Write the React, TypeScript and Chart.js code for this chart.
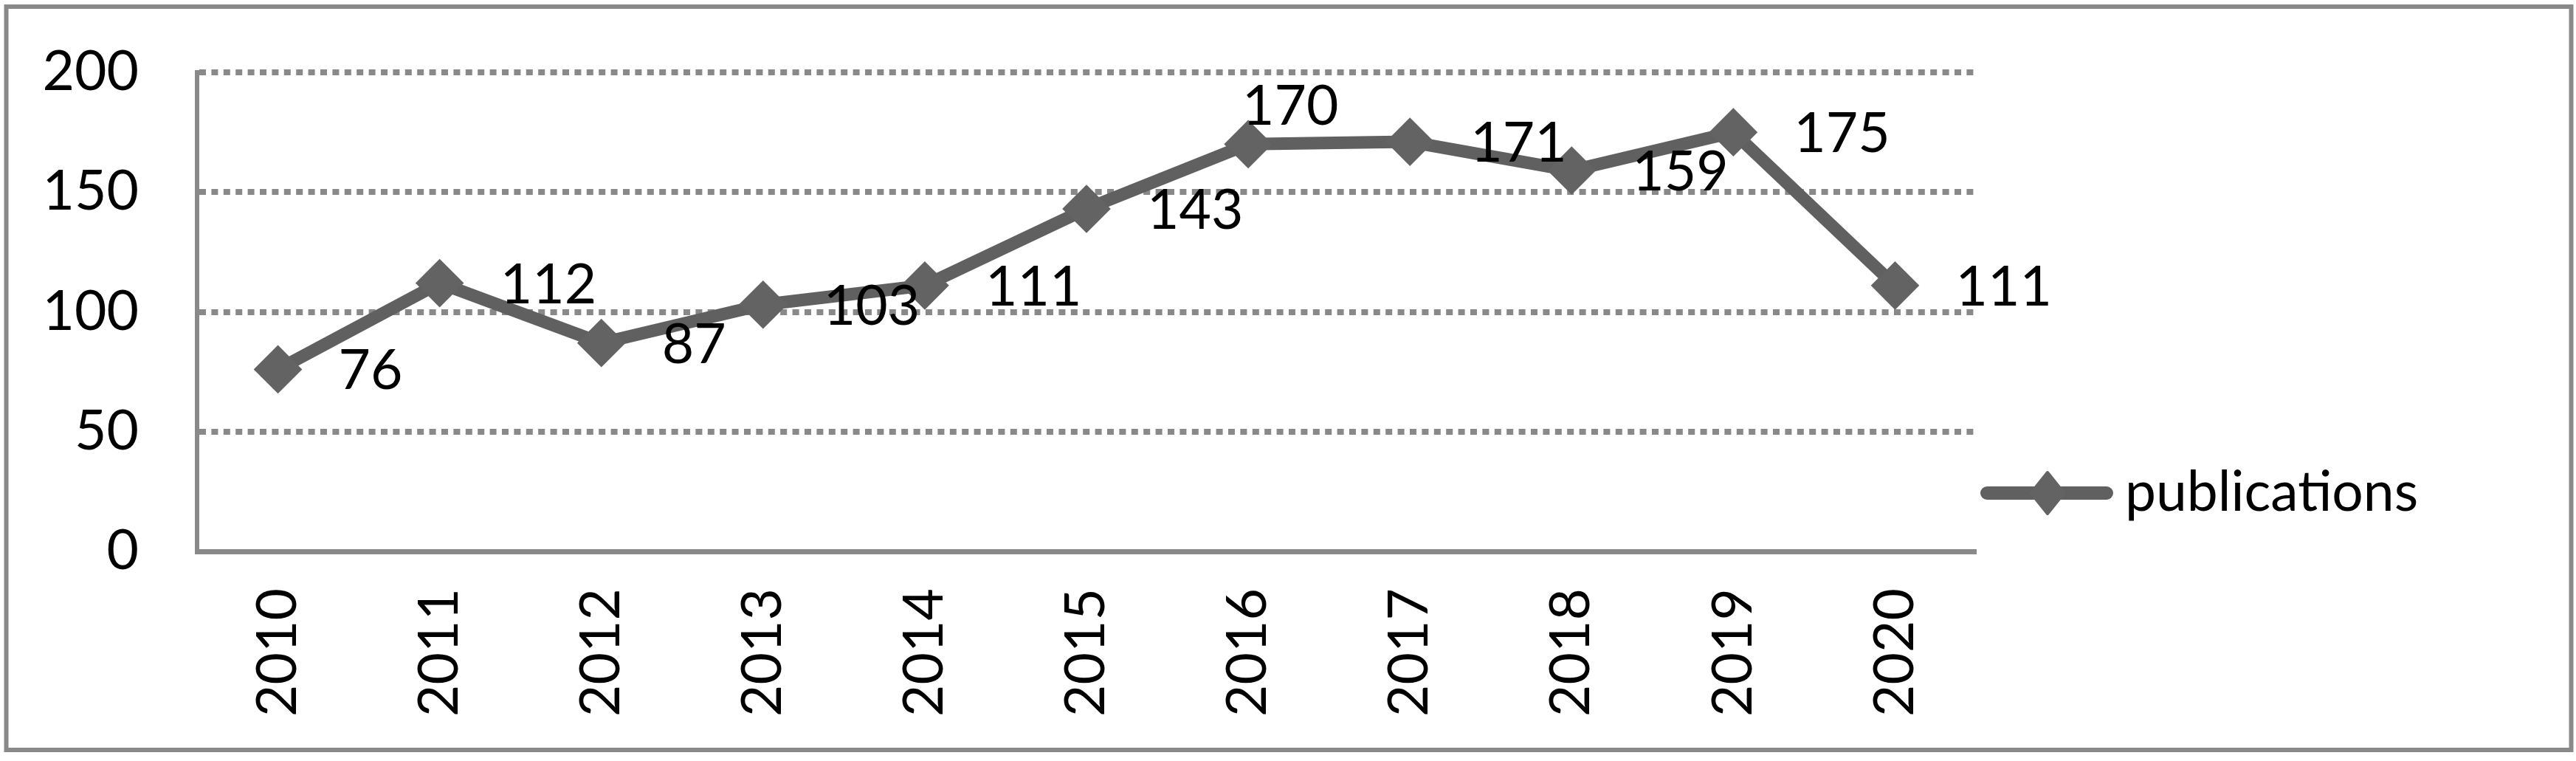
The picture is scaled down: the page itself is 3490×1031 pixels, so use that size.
import React, { useEffect, useRef } from 'react';
import { Chart, registerables } from 'chart.js';

Chart.register(...registerables);

// ---- data ----
const categories = ['2010', '2011', '2012', '2013', '2014', '2015', '2016', '2017', '2018', '2019', '2020'];
const publications = [76, 112, 87, 103, 111, 143, 170, 171, 159, 175, 111];
const yTickValues = [0, 50, 100, 150, 200];
const seriesName = 'publications';

// ---- style ----
const FONT_FAMILY = 'Lato';
const FONT_SIZE = 75;
const GRID_COLOR = '#898989';
const LINE_COLOR = '#606060';
const W = 3490;
const H = 1031;

export default function App() {
  const ref = useRef<HTMLCanvasElement>(null);

  useEffect(() => {
    document.body.style.margin = '0';
    document.body.style.overflow = 'hidden';
    const canvas = ref.current!;

    const framePlugin = {
      id: 'frame',
      beforeDraw(chart: any) {
        const ctx = chart.ctx;
        ctx.save();
        ctx.fillStyle = '#ffffff';
        ctx.fillRect(0, 0, chart.width, chart.height);
        ctx.restore();
      },
      afterDraw(chart: any) {
        const ctx = chart.ctx;
        ctx.save();
        ctx.strokeStyle = GRID_COLOR;
        ctx.lineWidth = 6;
        ctx.strokeRect(8.5, 9, chart.width - 15, chart.height - 24);
        ctx.restore();
      },
    };

    const valueLabelPlugin = {
      id: 'valueLabels',
      afterDatasetsDraw(chart: any) {
        const ctx = chart.ctx;
        const meta = chart.getDatasetMeta(0);
        const values = chart.data.datasets[0].data as number[];
        ctx.save();
        ctx.font = `${FONT_SIZE}px ${FONT_FAMILY}`;
        ctx.fillStyle = '#000000';
        ctx.textBaseline = 'alphabetic';
        ctx.textAlign = 'left';
        meta.data.forEach((pt: any, i: number) => {
          const text = String(values[i]);
          if (i === 6) {
            // this label sits above-right of its point
            ctx.fillText(text, pt.x - 8, pt.y - 26);
          } else {
            ctx.fillText(text, pt.x + 82, pt.y + 27);
          }
        });
        ctx.restore();
      },
    };

    const legendPlugin = {
      id: 'customLegend',
      afterDraw(chart: any) {
        const ctx = chart.ctx;
        const ds = chart.data.datasets[0];
        const x0 = chart.chartArea.right + 6;
        const cy = 668;
        ctx.save();
        ctx.strokeStyle = ds.borderColor;
        ctx.lineWidth = 18;
        ctx.lineCap = 'round';
        ctx.beginPath();
        ctx.moveTo(x0 + 9, cy);
        ctx.lineTo(x0 + 171, cy);
        ctx.stroke();
        const mx = x0 + 91;
        const r = 28;
        ctx.fillStyle = ds.pointBackgroundColor;
        ctx.strokeStyle = ds.pointBorderColor;
        ctx.lineWidth = 4;
        ctx.lineJoin = 'round';
        ctx.beginPath();
        ctx.moveTo(mx - r * 0.8, cy);
        ctx.lineTo(mx, cy - r);
        ctx.lineTo(mx + r * 0.8, cy);
        ctx.lineTo(mx, cy + r);
        ctx.closePath();
        ctx.fill();
        ctx.stroke();
        ctx.font = `${FONT_SIZE}px ${FONT_FAMILY}`;
        ctx.fillStyle = '#000000';
        ctx.textAlign = 'left';
        ctx.textBaseline = 'alphabetic';
        ctx.fillText(ds.label, x0 + 196, 692);
        ctx.restore();
      },
    };

    const chart = new Chart(canvas, {
      type: 'line',
      data: {
        labels: categories,
        datasets: [
          {
            label: seriesName,
            data: publications,
            borderColor: LINE_COLOR,
            backgroundColor: LINE_COLOR,
            borderWidth: 17,
            borderJoinStyle: 'round',
            borderCapStyle: 'round',
            pointStyle: 'rectRot',
            pointRadius: 30,
            pointHoverRadius: 30,
            pointBackgroundColor: '#636363',
            pointBorderColor: '#636363',
            pointBorderWidth: 4,
            tension: 0,
            fill: false,
          },
        ],
      },
      options: {
        responsive: false,
        animation: false,
        devicePixelRatio: 1,
        layout: { autoPadding: false, padding: { top: 98, right: W - 2677, bottom: 0, left: 0 } },
        plugins: {
          legend: { display: false },
          tooltip: { enabled: false },
          title: { display: false },
        },
        scales: {
          x: {
            type: 'category',
            offset: true,
            grid: { display: false, drawTicks: false },
            border: { display: true, color: GRID_COLOR, width: 7 },
            ticks: {
              color: '#000000',
              font: { family: FONT_FAMILY, size: FONT_SIZE },
              maxRotation: 90,
              minRotation: 90,
              padding: 50,
              autoSkip: false,
            },
            afterFit(scale: any) {
              scale.height = H - 747;
            },
          },
          y: {
            min: 0,
            max: 200,
            grid: {
              drawTicks: true,
              tickLength: 79,
              tickColor: 'rgba(0,0,0,0)',
              color: (c: any) => (c.tick && c.tick.value === 0 ? 'rgba(0,0,0,0)' : GRID_COLOR),
              lineWidth: 8,
            },
            border: { display: true, color: GRID_COLOR, width: 6, dash: [9, 7.4] as any },
            ticks: {
              color: '#000000',
              font: { family: FONT_FAMILY, size: FONT_SIZE },
              padding: 0,
            },
            afterBuildTicks(scale: any) {
              scale.ticks = yTickValues.map((v) => ({ value: v }));
            },
            afterFit(scale: any) {
              scale.width = 267;
            },
          },
        },
      } as any,
      plugins: [framePlugin, valueLabelPlugin, legendPlugin],
    });

    return () => chart.destroy();
  }, []);

  return <canvas ref={ref} width={W} height={H} style={{ display: 'block' }} />;
}
